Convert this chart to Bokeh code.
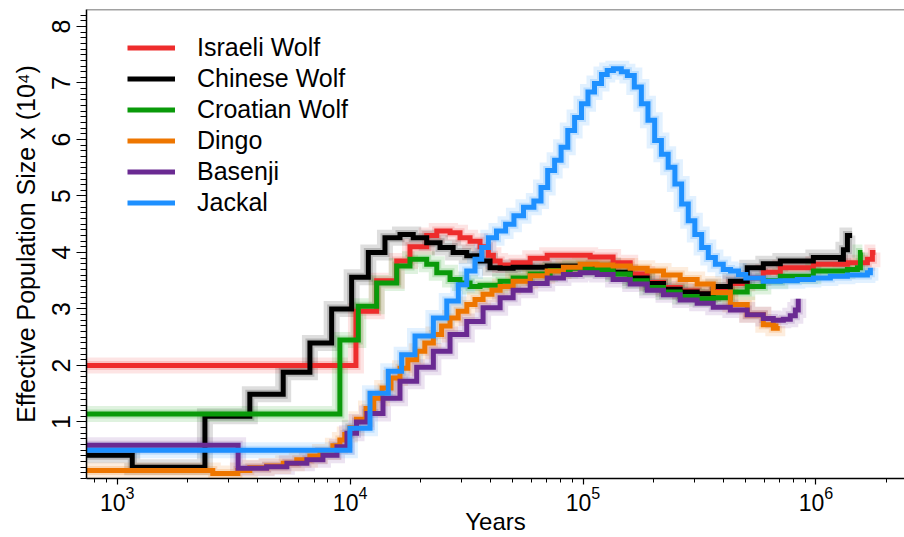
from bokeh.plotting import figure
from bokeh.models import Range1d, FixedTicker, Legend, LegendItem, Span
from bokeh.embed import file_html
from bokeh.resources import INLINE

# ---- data: PSMC step curves (years ago, effective population size x 10^4) ----
israeli_years = [600, 10590, 13000, 15850, 18070, 21320, 23550, 26850, 29630, 32730,
                 36120, 39220, 41210, 44050, 50100, 59300, 70150, 88060, 107300, 134600,
                 159400, 188600, 221600, 261200, 309000, 362300, 429000, 507000, 594300, 703100,
                 974700, 1365000, 1663000, 1747000, 1800000]
israeli_ne = [2.00, 2.96, 3.50, 3.85, 4.10, 4.30, 4.38, 4.35, 4.26, 4.20,
              4.10, 3.95, 3.85, 3.78, 3.82, 3.90, 3.95, 3.95, 3.92, 3.82,
              3.62, 3.47, 3.38, 3.32, 3.27, 3.31, 3.45, 3.55, 3.65, 3.73,
              3.79, 3.82, 3.88, 4.00, 4.00]

chinese_years = [600, 1160, 2380, 3710, 5160, 6720, 8330, 10150, 11970, 14110,
                 16370, 18660, 21320, 24320, 27680, 31670, 36120, 39880, 44050, 50100,
                 70150, 97170, 134600, 159400, 188600, 221600, 261200, 309000, 362300, 429000,
                 507000, 594300, 703100, 974700, 1274000, 1312000, 1365000, 1430000]
chinese_ne = [0.41, 0.20, 1.10, 1.49, 1.88, 2.40, 3.00, 3.56, 4.00, 4.26,
              4.32, 4.26, 4.17, 4.09, 4.00, 3.94, 3.85, 3.73, 3.72, 3.74,
              3.76, 3.76, 3.65, 3.55, 3.45, 3.35, 3.30, 3.27, 3.40, 3.49,
              3.73, 3.80, 3.85, 3.91, 3.88, 4.05, 4.30, 4.30]

croatian_years = [600, 9036, 10840, 13000, 15850, 18070, 21320, 23550, 26850, 29630,
                  32730, 36120, 44050, 50100, 59300, 72240, 88060, 107300, 134600, 159400,
                  188600, 221600, 261200, 309000, 362300, 429000, 507000, 594300, 703100, 974700,
                  1365000, 1507000, 1552000, 1583000]
croatian_ne = [1.14, 2.45, 3.05, 3.46, 3.76, 3.88, 3.79, 3.64, 3.52, 3.46,
               3.40, 3.42, 3.49, 3.55, 3.62, 3.68, 3.72, 3.70, 3.62, 3.50,
               3.38, 3.30, 3.22, 3.18, 3.20, 3.30, 3.40, 3.50, 3.58, 3.67,
               3.70, 3.73, 4.00, 4.00]

dingo_years = [600, 2572, 3296, 3710, 4380, 5160, 5900, 6717, 7420, 8430,
               9036, 9480, 9977, 10650, 11700, 12630, 13720, 14980, 16370, 17700,
               19310, 20920, 22770, 24700, 26850, 29100, 31700, 34370, 37220, 40640,
               44050, 50100, 59300, 70150, 82370, 97170, 115000, 134600, 159400, 188600,
               221600, 261200, 309000, 362300, 429000, 507000, 594300, 656100, 682300, 690000]
dingo_ne = [0.14, 0.09, 0.14, 0.19, 0.22, 0.27, 0.33, 0.40, 0.47, 0.58,
            0.68, 0.78, 0.90, 1.05, 1.24, 1.42, 1.60, 1.78, 1.95, 2.10,
            2.25, 2.40, 2.55, 2.70, 2.84, 2.96, 3.08, 3.17, 3.26, 3.33,
            3.40, 3.49, 3.59, 3.67, 3.74, 3.79, 3.78, 3.76, 3.72, 3.67,
            3.60, 3.52, 3.44, 3.29, 3.08, 2.90, 2.72, 2.66, 2.70, 2.70]

basenji_years = [600, 3304, 4380, 5350, 6520, 7640, 8780, 9690, 10650, 11810,
                 13840, 16370, 19310, 22770, 26850, 31670, 37220, 44050, 50100, 59300,
                 70150, 82370, 97170, 115000, 134600, 159400, 188600, 221600, 261200, 309000,
                 362300, 429000, 507000, 594300, 656100, 724400, 776000, 815500, 839500]
basenji_ne = [0.59, 0.18, 0.21, 0.27, 0.33, 0.41, 0.56, 0.80, 1.00, 1.15,
              1.42, 1.72, 1.97, 2.25, 2.55, 2.78, 3.02, 3.20, 3.33, 3.45,
              3.55, 3.61, 3.64, 3.61, 3.52, 3.44, 3.33, 3.25, 3.16, 3.10,
              3.03, 2.98, 2.90, 2.83, 2.80, 2.82, 2.88, 2.98, 3.18]

jackal_years = [600, 9977, 12170, 14580, 16640, 18990, 22770, 26000, 29140, 31670,
                34370, 36730, 39220, 42500, 46500, 50500, 55500, 61500, 66000, 70500,
                75500, 80500, 86000, 92000, 98500, 105000, 112000, 120000, 127000, 135000,
                146000, 155000, 166000, 178000, 190000, 203000, 217000, 232000, 248000, 265000,
                283000, 302000, 323000, 345000, 370000, 400000, 430000, 465000, 500000, 594300,
                703100, 831800, 974700, 1153000, 1365000, 1663000, 1713000]
jackal_ne = [0.50, 0.89, 1.51, 1.90, 2.19, 2.52, 2.84, 3.14, 3.43, 3.67,
             3.88, 4.09, 4.26, 4.38, 4.50, 4.65, 4.80, 4.91, 5.15, 5.45,
             5.63, 5.86, 6.16, 6.39, 6.63, 6.84, 6.99, 7.15, 7.22, 7.25,
             7.20, 7.13, 6.93, 6.63, 6.34, 5.98, 5.74, 5.51, 5.21, 4.86,
             4.56, 4.32, 4.09, 3.91, 3.79, 3.70, 3.67, 3.61, 3.55, 3.49,
             3.50, 3.52, 3.55, 3.58, 3.60, 3.64, 3.73]

names = ["Israeli Wolf", "Chinese Wolf", "Croatian Wolf", "Dingo", "Basenji", "Jackal"]
colors = ["#EE2C2C", "#000000", "#0A9A0A", "#EE7600", "#6A2A92", "#1E90FF"]
series = [(israeli_years, israeli_ne), (chinese_years, chinese_ne),
          (croatian_years, croatian_ne), (dingo_years, dingo_ne),
          (basenji_years, basenji_ne), (jackal_years, jackal_ne)]

x_major = [1e3, 1e4, 1e5, 1e6]
y_major = [1, 2, 3, 4, 5, 6, 7, 8]

FONT = "Liberation Sans"

p = figure(width=904, height=537, x_axis_type="log", output_backend="svg",
           toolbar_location=None, x_range=Range1d(738, 2.4e6), y_range=Range1d(0, 8.3),
           min_border_left=86, min_border_right=0, min_border_top=9, min_border_bottom=0)
p.outline_line_color = None
p.grid.visible = False
p.background_fill_color = "white"

# bootstrap haze (wide translucent underlay)
for (xs, ys), c in zip(series, colors):
    p.step(xs, ys, mode="after", line_color=c, line_width=16, line_alpha=0.13, line_join="miter")
    p.step(xs, ys, mode="after", line_color=c, line_width=9, line_alpha=0.18, line_join="miter")

renderers = []
for (xs, ys), c in zip(series, colors):
    r = p.step(xs, ys, mode="after", line_color=c, line_width=5, line_join="miter")
    renderers.append(r)

p.add_layout(Span(location=8.3, dimension="width", line_color="#444444", line_width=1.5))

# axes
xa = p.xaxis[0]
xa.ticker = FixedTicker(ticks=x_major,
                        minor_ticks=[m * 10 ** k for k in range(2, 7) for m in range(2, 10)])
xa.axis_label = "Years"
xa.major_tick_out = 6
xa.major_tick_in = 0
xa.minor_tick_out = 4
xa.minor_tick_in = 0
xa.major_label_standoff = 1
xa.axis_label_standoff = -6

ya = p.yaxis[0]
ya.ticker = FixedTicker(ticks=y_major, minor_ticks=[i / 10 for i in range(0, 83)])
ya.axis_label = "Effective Population Size x (10\u2074)"
ya.major_label_orientation = "vertical"
ya.major_tick_out = 10
ya.major_tick_in = 0
ya.minor_tick_out = 6
ya.minor_tick_in = 0
ya.major_label_standoff = 6
ya.axis_label_standoff = 10

for ax in (xa, ya):
    ax.axis_line_color = "black"
    ax.axis_line_width = 1.5
    ax.major_tick_line_color = "black"
    ax.minor_tick_line_color = "black"
    ax.major_tick_line_width = 1.2
    ax.minor_tick_line_width = 1
    ax.major_label_text_font = FONT
    ax.major_label_text_color = "black"
    ax.axis_label_text_font = FONT
    ax.axis_label_text_font_style = "normal"
    ax.axis_label_text_color = "black"
xa.major_label_text_font_size = "23px"
ya.major_label_text_font_size = "25px"
xa.axis_label_text_font_size = "24px"
ya.axis_label_text_font_size = "25px"

legend = Legend(items=[LegendItem(label=n, renderers=[r]) for n, r in zip(names, renderers)],
                location=(41, 260), border_line_color=None, background_fill_alpha=0,
                padding=0, margin=0, spacing=0, label_height=31, glyph_height=31,
                glyph_width=48, label_standoff=22, label_text_font=FONT,
                label_text_font_size="25px", label_text_color="black")
p.add_layout(legend)

open("out.html", "w").write(file_html(p, INLINE))
